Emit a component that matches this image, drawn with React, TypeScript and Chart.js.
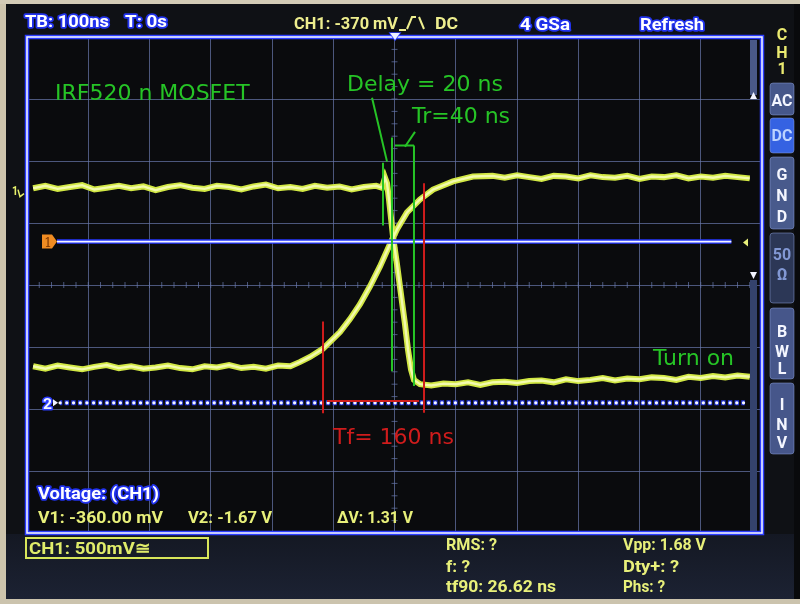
import React, { useEffect, useRef } from "react";
import { Chart, registerables } from "chart.js";
Chart.register(...registerables);

const W = 800;
const H = 604;

// Horizontal axis: time in ns, 100 ns/div, 12 divisions
const timeMin = -600;
const timeMax = 600;
const timeStep = 100;
// Vertical axis: screen divisions (500 mV/div), 8 divisions
const divMin = -4;
const divMax = 4;
const divStep = 1;

// CH1 trace (falling edge)
const ch1Time = [
  -590, -570, -550, -530, -510, -490, -470, -450, -430, -410, -390, -370, -350, -330, -310,
  -290, -270, -250, -230, -210, -190, -170, -150, -130, -110, -90, -70, -50, -30,
  -20.4, -15.5, -12.2, -9.0, -2.4, 4.1, 10.6, 17.1, 22.0, 26.9, 31.8, 41.6,
  60, 80, 100, 120, 140, 160, 180, 200, 220, 240, 260, 280, 300, 320, 340, 360, 380, 400,
  420, 440, 460, 480, 500, 520, 540, 560, 580,
];
const ch1Level = [
  1.56, 1.6, 1.55, 1.58, 1.61, 1.54, 1.57, 1.6, 1.56, 1.59, 1.53, 1.58, 1.61, 1.57, 1.55,
  1.6, 1.58, 1.54, 1.59, 1.62, 1.56, 1.58, 1.55, 1.6, 1.57, 1.59, 1.54, 1.58, 1.6,
  1.57, 1.73, 1.64, 1.38, 0.78, 0.33, -0.15, -0.63, -1.04, -1.36, -1.53, -1.6,
  -1.62, -1.59, -1.6, -1.57, -1.61, -1.57, -1.56, -1.58, -1.55, -1.54, -1.57, -1.52, -1.55,
  -1.53, -1.5, -1.54, -1.51, -1.52, -1.49, -1.5, -1.53, -1.48, -1.5, -1.47, -1.49, -1.46, -1.48,
];

// Second trace (rising edge)
const ch2Time = [
  -590, -570, -550, -530, -510, -490, -470, -450, -430, -410, -390, -370, -350, -330, -310,
  -290, -270, -250, -230, -210, -190, -170,
  -154, -138, -117, -89, -72.7, -56.3, -40, -23.7, -7.3, 4.1, 20.4, 41.6, 62.9, 95.5, 128,
  160, 180, 200, 220, 240, 260, 280, 300, 320, 340, 360, 380, 400, 420, 440, 460, 480, 500,
  520, 540, 560, 580,
];
const ch2Level = [
  -1.31, -1.35, -1.3, -1.33, -1.36, -1.32, -1.29, -1.34, -1.31, -1.35, -1.33, -1.3, -1.34,
  -1.36, -1.31, -1.33, -1.29, -1.34, -1.32, -1.35, -1.3, -1.31,
  -1.24, -1.16, -1.03, -0.76, -0.55, -0.31, -0.02, 0.3, 0.66, 0.9, 1.17, 1.38, 1.54, 1.67, 1.75,
  1.76, 1.73, 1.77, 1.74, 1.71, 1.76, 1.75, 1.72, 1.77, 1.74, 1.73, 1.76, 1.71, 1.75, 1.74,
  1.77, 1.72, 1.75, 1.73, 1.76, 1.74, 1.72,
];

// Trigger level line and CH2 reference (dotted) line
const triggerLevel = 0.7;
const triggerSpan = [-551, 550];
const ch2RefLevel = -1.9;
const ch2RefSpan = [-546, 572];

// Green hand-drawn annotation segments [ns, div]
const delayLeader = [[-36.7, 3.02], [-12.2, 1.99]];
const delayMarkA = [[-18.8, 1.97], [-18.8, 0.96]];
const delayMarkB = [[-4.1, 2.38], [-4.1, -1.39]];
const riseMarkEnd = [[31.8, 2.25], [31.8, -1.63]];
const riseBracket = [[0.8, 2.25], [31.8, 2.25]];
const riseLeader = [[17.1, 2.23], [33.5, 2.47]];

// Red hand-drawn annotation segments [ns, div]
const fallMarkStart = [[-116.7, -0.59], [-116.7, -2.07]];
const fallMarkEnd = [[48.2, 1.64], [48.2, -2.06]];
const fallBracket = [[-110.2, -1.87], [40.0, -1.87]];

const GRID = "rgba(104,120,172,0.7)";
const GREEN = "#26c426";
const RED = "#cf1c1c";
const YEL = "#e8f07a";

const toPts = (xs: number[], ys: number[]) => xs.map((x, i) => ({ x, y: ys[i] }));
const segPts = (seg: number[][]) => seg.map(([x, y]) => ({ x, y }));

function ds(data: any[], color: string, width: number, order: number, extra: any = {}) {
  return {
    data,
    borderColor: color,
    backgroundColor: color,
    borderWidth: width,
    pointRadius: 0,
    showLine: true,
    fill: false,
    tension: 0,
    order,
    ...extra,
  };
}

function fitText(
  ctx: CanvasRenderingContext2D,
  s: string,
  x: number,
  y: number,
  w: number,
  font: string,
  fill: string,
  stroke?: string,
  sw = 3
) {
  ctx.save();
  ctx.font = font;
  ctx.textAlign = "left";
  ctx.textBaseline = "alphabetic";
  const m = ctx.measureText(s).width;
  const sx = w > 0 ? w / m : 1;
  ctx.translate(x, y);
  ctx.scale(sx, 1);
  if (stroke) {
    ctx.strokeStyle = stroke;
    ctx.lineWidth = sw;
    ctx.lineJoin = "round";
    ctx.strokeText(s, 0, 0);
  }
  ctx.fillStyle = fill;
  ctx.fillText(s, 0, 0);
  ctx.restore();
}

function cText(ctx: CanvasRenderingContext2D, s: string, x: number, y: number, font: string, fill: string) {
  ctx.save();
  ctx.font = font;
  ctx.textAlign = "center";
  ctx.textBaseline = "alphabetic";
  ctx.fillStyle = fill;
  ctx.fillText(s, x, y);
  ctx.restore();
}

function rrect(ctx: CanvasRenderingContext2D, x: number, y: number, w: number, h: number, r: number) {
  ctx.beginPath();
  ctx.moveTo(x + r, y);
  ctx.lineTo(x + w - r, y);
  ctx.quadraticCurveTo(x + w, y, x + w, y + r);
  ctx.lineTo(x + w, y + h - r);
  ctx.quadraticCurveTo(x + w, y + h, x + w - r, y + h);
  ctx.lineTo(x + r, y + h);
  ctx.quadraticCurveTo(x, y + h, x, y + h - r);
  ctx.lineTo(x, y + r);
  ctx.quadraticCurveTo(x, y, x + r, y);
  ctx.closePath();
}

const scopePlugin = {
  id: "scopeDecor",
  beforeDraw(chart: any) {
    const { ctx, chartArea: a } = chart;
    ctx.save();
    ctx.fillStyle = "#0f1115";
    ctx.fillRect(0, 0, W, H);
    const g = ctx.createLinearGradient(0, 534, 0, 600);
    g.addColorStop(0, "#141823");
    g.addColorStop(1, "#1c2233");
    ctx.fillStyle = g;
    ctx.fillRect(0, 534, W, 66);
    ctx.fillStyle = "#090a0c";
    ctx.fillRect(794, 0, 6, H);
    ctx.fillStyle = "#cdc4ac";
    ctx.fillRect(0, 0, 6, H);
    ctx.fillStyle = "#d3cbb6";
    ctx.fillRect(0, 0, W, 4);
    ctx.fillStyle = "#cbc3ad";
    ctx.fillRect(0, 599, W, 5);
    ctx.fillStyle = "#0a0b0d";
    ctx.fillRect(a.left, a.top, a.width, a.height);
    ctx.restore();
  },
  beforeDatasetsDraw(chart: any) {
    const { ctx, chartArea: a } = chart;
    const xs = chart.scales.x;
    const ys = chart.scales.y;
    const cx = xs.getPixelForValue(0);
    const cy = ys.getPixelForValue(0);
    ctx.save();
    ctx.strokeStyle = GRID;
    ctx.lineWidth = 1;
    ctx.beginPath();
    for (let i = 0; i <= 40; i++) {
      const py = ys.getPixelForValue(divMin + i * 0.2);
      ctx.moveTo(cx - 3, py);
      ctx.lineTo(cx + 3, py);
    }
    for (let i = 0; i <= 60; i++) {
      const px = xs.getPixelForValue(timeMin + i * 20);
      ctx.moveTo(px, cy - 3);
      ctx.lineTo(px, cy + 3);
    }
    ctx.stroke();
    // right scroll strip
    ctx.fillStyle = "#4a5988";
    ctx.fillRect(a.right - 12, a.top + 3, 7, 55);
    ctx.fillStyle = "#34426c";
    ctx.fillRect(a.right - 12, 280, 7, a.bottom - 282);
    ctx.fillStyle = "#f2f4ff";
    ctx.beginPath();
    ctx.moveTo(a.right - 12, 99);
    ctx.lineTo(a.right - 5, 99);
    ctx.lineTo(a.right - 8.5, 92);
    ctx.closePath();
    ctx.fill();
    ctx.beginPath();
    ctx.moveTo(a.right - 12, 272);
    ctx.lineTo(a.right - 5, 272);
    ctx.lineTo(a.right - 8.5, 279);
    ctx.closePath();
    ctx.fill();
    ctx.restore();
  },
  afterDatasetsDraw(chart: any) {
    const { ctx, chartArea: a } = chart;
    const ys = chart.scales.y;
    ctx.save();
    // frame
    ctx.strokeStyle = "#2c3dff";
    ctx.lineWidth = 4.5;
    ctx.strokeRect(a.left, a.top, a.width, a.height);
    ctx.strokeStyle = "#eef1ff";
    ctx.lineWidth = 1.6;
    ctx.strokeRect(a.left, a.top, a.width, a.height);

    // trigger position marker at top
    ctx.fillStyle = "#eef1ff";
    ctx.strokeStyle = "#2c3dff";
    ctx.lineWidth = 1.5;
    ctx.beginPath();
    ctx.moveTo(390, 33);
    ctx.lineTo(400, 33);
    ctx.lineTo(395, 40);
    ctx.closePath();
    ctx.stroke();
    ctx.fill();

    // CH1 ground marker
    const y1 = ys.getPixelForValue(1.57);
    fitText(ctx, "1", 12, y1 + 7, 6, "bold 13px Roboto", "#e6f06a");
    ctx.strokeStyle = "#e6f06a";
    ctx.lineWidth = 1.5;
    ctx.beginPath();
    ctx.moveTo(18, y1 + 2);
    ctx.lineTo(20, y1 + 9);
    ctx.lineTo(24, y1 + 6);
    ctx.stroke();

    // trigger level marker (orange)
    const yt = ys.getPixelForValue(triggerLevel);
    ctx.fillStyle = "#f08c22";
    ctx.beginPath();
    ctx.moveTo(42, yt - 7);
    ctx.lineTo(52, yt - 7);
    ctx.lineTo(57, yt);
    ctx.lineTo(52, yt + 7);
    ctx.lineTo(42, yt + 7);
    ctx.closePath();
    ctx.fill();
    cText(ctx, "1", 48, yt + 5, "12px 'DejaVu Serif'", "#7a3400");
    ctx.fillStyle = "#e8f07a";
    ctx.beginPath();
    ctx.moveTo(743, yt + 1);
    ctx.lineTo(748, yt - 3);
    ctx.lineTo(748, yt + 5);
    ctx.closePath();
    ctx.fill();

    // CH2 reference marker
    const y2 = ys.getPixelForValue(ch2RefLevel);
    fitText(ctx, "2", 43, y2 + 6, 9, "bold 14px Roboto", "#f2f4ff", "#2c3dff", 3);
    ctx.fillStyle = "#f2f4ff";
    ctx.beginPath();
    ctx.moveTo(53, y2 - 3.5);
    ctx.lineTo(58, y2);
    ctx.lineTo(53, y2 + 3.5);
    ctx.closePath();
    ctx.fill();

    // annotation texts
    const ann = "22px 'DejaVu Sans'";
    fitText(ctx, "IRF520 n MOSFET", 55, 100, 0, ann, GREEN);
    fitText(ctx, "Delay = 20 ns", 347, 91, 0, ann, GREEN);
    fitText(ctx, "Tr=40 ns", 412, 123, 0, ann, GREEN);
    fitText(ctx, "Turn on", 653, 365, 0, ann, GREEN);
    fitText(ctx, "Tf= 160 ns", 333, 444, 0, ann, RED);

    // top status bar
    const uiW = "bold 17px Roboto";
    fitText(ctx, "TB: 100ns", 25, 27, 84, uiW, "#ffffff", "#2233ee", 3.5);
    fitText(ctx, "T: 0s", 125, 27, 42, uiW, "#ffffff", "#2233ee", 3.5);
    fitText(ctx, "CH1: -370 mV", 294, 29, 104, uiW, "#eeee8e");
    ctx.strokeStyle = "#eeee8e";
    ctx.lineWidth = 2;
    ctx.beginPath();
    ctx.moveTo(399, 30);
    ctx.lineTo(406, 30);
    ctx.moveTo(407, 29);
    ctx.lineTo(412, 17);
    ctx.lineTo(416, 17);
    ctx.moveTo(419, 17);
    ctx.lineTo(424, 29);
    ctx.stroke();
    fitText(ctx, "DC", 435, 29, 23, uiW, "#eeee8e");
    fitText(ctx, "4 GSa", 520, 30, 50, uiW, "#ffffff", "#2233ee", 3.5);
    fitText(ctx, "Refresh", 640, 30, 64, uiW, "#ffffff", "#2233ee", 3.5);

    // bottom measurement block
    fitText(ctx, "Voltage: (CH1)", 38, 499, 121, uiW, "#ffffff", "#2233ee", 3.5);
    const uiY = "bold 17px Roboto";
    fitText(ctx, "V1: -360.00 mV", 38, 523, 125, uiY, YEL);
    fitText(ctx, "V2: -1.67 V", 188, 523, 84, uiY, YEL);
    fitText(ctx, "ΔV: 1.31 V", 337, 523, 76, uiY, YEL);
    ctx.strokeStyle = "#d8e65a";
    ctx.lineWidth = 2;
    ctx.strokeRect(26, 538, 182, 20);
    fitText(ctx, "CH1: 500mV≅", 29, 554, 121, uiY, "#e0ec6a");
    fitText(ctx, "RMS: ?", 446, 550, 51, uiY, YEL);
    fitText(ctx, "f: ?", 446, 572, 24, uiY, YEL);
    fitText(ctx, "tf90: 26.62 ns", 446, 592, 110, uiY, YEL);
    fitText(ctx, "Vpp: 1.68 V", 623, 550, 83, uiY, YEL);
    fitText(ctx, "Dty+: ?", 623, 572, 56, uiY, YEL);
    fitText(ctx, "Phs: ?", 623, 592, 42, uiY, YEL);

    // right channel menu
    const bx = 770;
    const bw = 24;
    const mid = bx + bw / 2;
    const side = "bold 16px Roboto";
    cText(ctx, "C", mid, 40, side, "#eaea70");
    cText(ctx, "H", mid, 58, side, "#eaea70");
    cText(ctx, "1", mid, 74, side, "#eaea70");
    const buttons: [number, number, string, string, string[], number[]][] = [
      [83, 115, "#46578a", "#f4f6ff", ["AC"], [106]],
      [118, 153, "#3562e2", "#bcd2ff", ["DC"], [141]],
      [157, 229, "#485a8c", "#f4f6ff", ["G", "N", "D"], [180, 201, 222]],
      [233, 303, "#2c3756", "#8298d4", ["50", "Ω"], [260, 280]],
      [308, 379, "#46568a", "#f4f6ff", ["B", "W", "L"], [337, 357, 374]],
      [383, 454, "#46568a", "#f4f6ff", ["I", "N", "V"], [410, 430, 448]],
    ];
    for (const [t, b, fill, tc, labels, bl] of buttons) {
      rrect(ctx, bx, t, bw, b - t, 3);
      ctx.fillStyle = fill;
      ctx.fill();
      ctx.strokeStyle = "rgba(140,160,220,0.5)";
      ctx.lineWidth = 1;
      ctx.stroke();
      labels.forEach((l, i) => {
        if (l === "AC" || l === "DC" || l === "50") {
          ctx.save();
          ctx.font = side;
          const m = ctx.measureText(l).width;
          ctx.restore();
          fitText(ctx, l, mid - Math.min(m, 21) / 2, bl[i], Math.min(m, 21), side, tc);
        } else {
          cText(ctx, l, mid, bl[i], side, tc);
        }
      });
    }
    ctx.restore();
  },
};

export default function App() {
  const ref = useRef<HTMLCanvasElement | null>(null);
  useEffect(() => {
    if (!ref.current) return;
    const trace1 = toPts(ch1Time, ch1Level);
    const trace2 = toPts(ch2Time, ch2Level);
    const trig = segPts([[triggerSpan[0], triggerLevel], [triggerSpan[1], triggerLevel]]);
    const ref2 = segPts([[ch2RefSpan[0], ch2RefLevel], [ch2RefSpan[1], ch2RefLevel]]);
    const chart = new Chart(ref.current, {
      type: "scatter",
      data: {
        datasets: [
          ds(segPts(delayLeader), GREEN, 2, 1),
          ds(segPts(delayMarkA), GREEN, 2, 1),
          ds(segPts(delayMarkB), GREEN, 2, 1),
          ds(segPts(riseMarkEnd), GREEN, 2, 1),
          ds(segPts(riseBracket), GREEN, 2, 1),
          ds(segPts(riseLeader), GREEN, 2, 1),
          ds(segPts(fallMarkStart), RED, 2, 2),
          ds(segPts(fallMarkEnd), RED, 2, 2),
          ds(segPts(fallBracket), RED, 2, 2),
          ds(trig, "#f4f6ff", 1.6, 3),
          ds(trig, "#2437ff", 4.5, 4),
          ds(ref2, "#f4f6ff", 3.2, 5, { borderDash: [0.1, 6.6], borderCapStyle: "round" }),
          ds(ref2, "rgba(40,60,255,0.85)", 5, 6, { borderDash: [4.4, 2.3], borderDashOffset: 2.2 }),
          ds(trace1, "#f2faae", 2.4, 7),
          ds(trace2, "#f2faae", 2.4, 7),
          ds(trace1, "#d2e844", 6, 8),
          ds(trace2, "#d2e844", 6, 8),
        ] as any,
      },
      options: {
        responsive: false,
        maintainAspectRatio: false,
        animation: false,
        devicePixelRatio: 1,
        layout: { padding: { left: 27, right: 38, top: 37, bottom: 71 } },
        plugins: { legend: { display: false }, tooltip: { enabled: false } },
        events: [],
        scales: {
          x: {
            type: "linear",
            min: timeMin,
            max: timeMax,
            ticks: { stepSize: timeStep, display: false },
            grid: { color: GRID, lineWidth: 1, drawTicks: false },
            border: { display: false },
          },
          y: {
            type: "linear",
            min: divMin,
            max: divMax,
            ticks: { stepSize: divStep, display: false },
            grid: { color: GRID, lineWidth: 1, drawTicks: false },
            border: { display: false },
          },
        },
      } as any,
      plugins: [scopePlugin],
    });
    return () => chart.destroy();
  }, []);
  return (
    <div style={{ position: "absolute", left: 0, top: 0, width: W, height: H }}>
      <canvas ref={ref} width={W} height={H} style={{ width: W, height: H, display: "block" }} />
    </div>
  );
}
